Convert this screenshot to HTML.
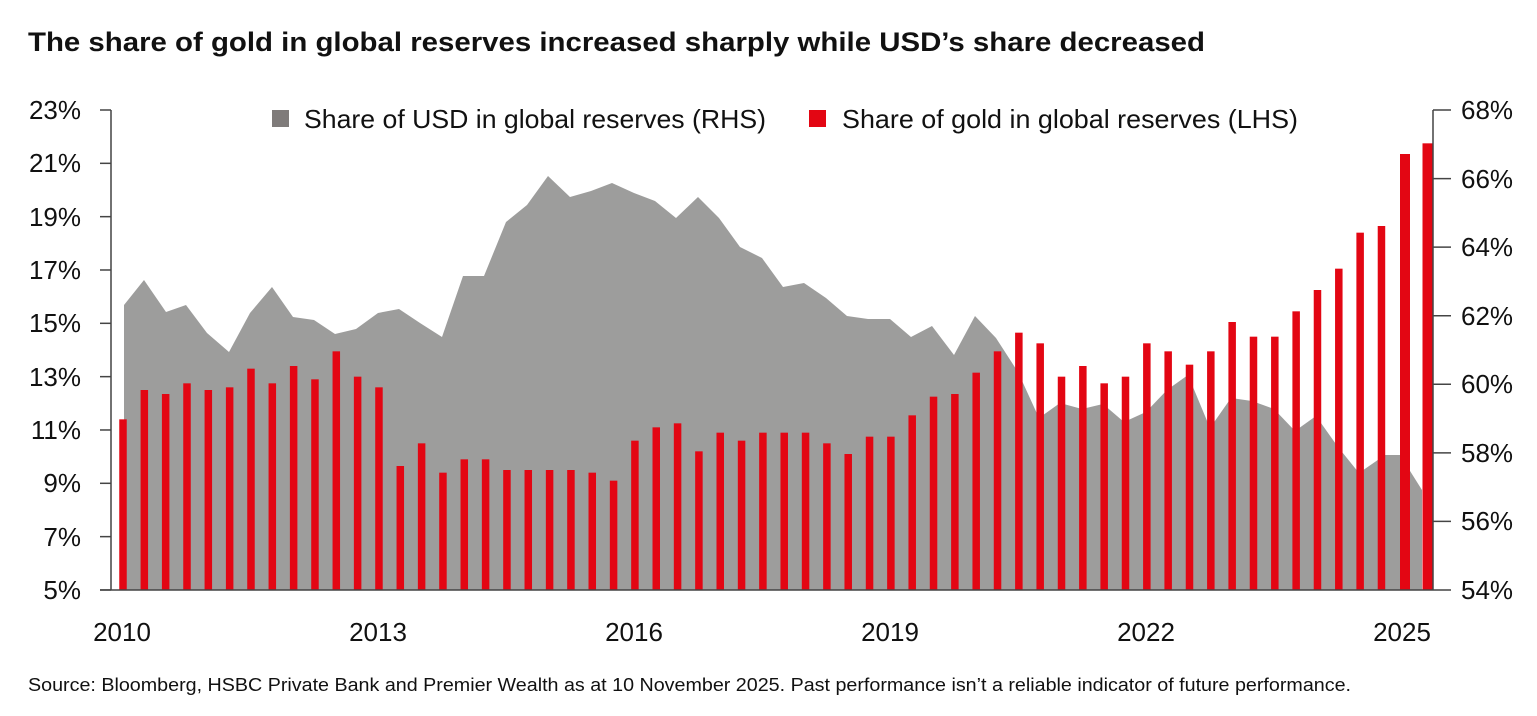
<!DOCTYPE html>
<html><head><meta charset="utf-8"><style>
body{margin:0;background:#fff;}
svg text{font-family:"Liberation Sans",Arial,sans-serif;fill:#111;}
</style></head><body>
<svg width="1537" height="711" xmlns="http://www.w3.org/2000/svg">
<text x="28" y="51" font-size="27" font-weight="bold" textLength="1177" lengthAdjust="spacingAndGlyphs">The share of gold in global reserves increased sharply while USD’s share decreased</text>
<polygon fill="#9d9d9c" points="124,590 124,305 144,280 166,312 186,305 207,333 229,352 250,313 272,287 293,317 314,320 335,334 356,329 378,313 399,309 420,323 442,337 463,276 484,276 506,222 527,205 548,176 570,197 591,191 612,183 634,193 655,201 676,218 698,197 719,218 740,247 762,258 783,287 804,283 826,298 847,316 868,319 890,319 911,337 932,326 954,355 975,316 996,338 1018,372 1039,418 1060,403 1082,409 1103,404 1124,422 1146,412 1167,390 1188,375 1210,428 1231,398 1252,401 1274,409 1295,431 1316,416 1338,447 1359,473 1385,455 1400,455 1422,490 1422,590"/>
<g id="bars" fill="#e30613"></g>
<g stroke="#444" stroke-width="1.5" fill="none">
<line x1="111" y1="110" x2="111" y2="590"/>
<line x1="100" y1="590" x2="1433" y2="590"/>
<line x1="1433" y1="110" x2="1433" y2="590"/>
</g>
<g id="ticks" stroke="#444" stroke-width="1.5"></g>
<g font-size="26" text-anchor="end">
<text x="81" y="119">23%</text><text x="81" y="172">21%</text><text x="81" y="226">19%</text><text x="81" y="279">17%</text><text x="81" y="332">15%</text><text x="81" y="386">13%</text><text x="81" y="439">11%</text><text x="81" y="492">9%</text><text x="81" y="546">7%</text><text x="81" y="599">5%</text>
</g>
<g font-size="26">
<text x="1461" y="119">68%</text><text x="1461" y="188">66%</text><text x="1461" y="256">64%</text><text x="1461" y="325">62%</text><text x="1461" y="393">60%</text><text x="1461" y="462">58%</text><text x="1461" y="530">56%</text><text x="1461" y="599">54%</text>
</g>
<g font-size="26" text-anchor="middle">
<text x="122" y="641">2010</text><text x="378" y="641">2013</text><text x="634" y="641">2016</text><text x="890" y="641">2019</text><text x="1146" y="641">2022</text><text x="1402" y="641">2025</text>
</g>
<rect x="272" y="110" width="17" height="17" fill="#7f7b7a"/>
<text x="304" y="128" font-size="26" textLength="462" lengthAdjust="spacingAndGlyphs">Share of USD in global reserves (RHS)</text>
<rect x="809" y="110" width="17" height="17" fill="#e30613"/>
<text x="842" y="128" font-size="26" textLength="456" lengthAdjust="spacingAndGlyphs">Share of gold in global reserves (LHS)</text>
<text x="28" y="691" font-size="18" textLength="1323" lengthAdjust="spacingAndGlyphs">Source: Bloomberg, HSBC Private Bank and Premier Wealth as at 10 November 2025. Past performance isn’t a reliable indicator of future performance.</text>
</svg>
<script>
var v=[11.4,12.5,12.35,12.75,12.5,12.6,13.3,12.75,13.4,12.9,13.95,13.0,12.6,9.65,10.5,9.4,9.9,9.9,9.5,9.5,9.5,9.5,9.4,9.1,10.6,11.1,11.25,10.2,10.9,10.6,10.9,10.9,10.9,10.5,10.1,10.75,10.75,11.55,12.25,12.35,13.15,13.95,14.65,14.25,13.0,13.4,12.75,13.0,14.25,13.95,13.45,13.95,15.05,14.5,14.5,15.45,16.25,17.05,18.4,18.65,21.35,21.75];
var g=document.getElementById('bars'),s='';
for(var i=0;i<v.length;i++){var c=123+i*21.33,w=7.5;if(i==60){c=1405;w=10;}if(i==61){c=1428;w=11;}
var y=110+(23-v[i])*26.667;s+='<rect x="'+(c-w/2)+'" y="'+y+'" width="'+w+'" height="'+(590-y)+'"/>';}
g.innerHTML=s;
var t='';for(var k=0;k<10;k++){var y=110+k*53.33;t+='<line x1="100" y1="'+y+'" x2="111" y2="'+y+'"/>';}
for(var k=0;k<8;k++){var y=110+k*68.57;t+='<line x1="1433" y1="'+y+'" x2="1451" y2="'+y+'"/>';}
document.getElementById('ticks').innerHTML=t;
</script>
</body></html>
